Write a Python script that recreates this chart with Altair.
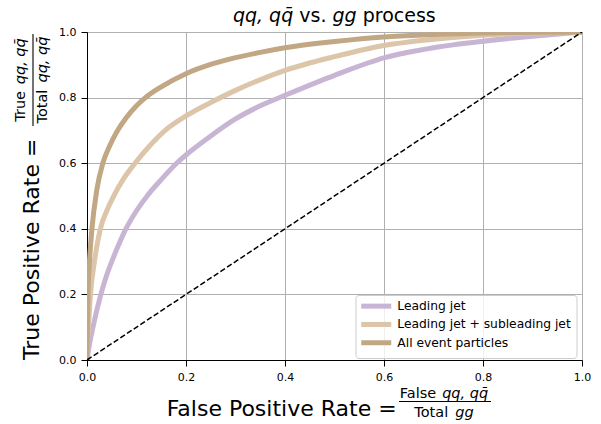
import altair as alt
import pandas as pd

# ---------------- data ----------------
series_names = ["Leading jet", "Leading jet + subleading jet", "All event particles"]
series_colors = ["#c8b4d3", "#dcc5a8", "#c1a783"]

lead_fpr = [0, 0.004, 0.012, 0.028, 0.04, 0.05, 0.065, 0.077, 0.1, 0.125, 0.15, 0.181,
            0.2, 0.25, 0.3, 0.35, 0.4, 0.5, 0.6, 0.7, 0.8, 0.9, 1.0]
lead_tpr = [0, 0.04, 0.1, 0.2, 0.26, 0.3, 0.355, 0.395, 0.455, 0.507, 0.55, 0.6,
            0.625, 0.683, 0.735, 0.775, 0.807, 0.868, 0.921, 0.952, 0.972, 0.987, 1.0]

sub_fpr = [0, 0.001, 0.003, 0.007, 0.015, 0.027, 0.04, 0.054, 0.075, 0.097, 0.125, 0.158,
           0.2, 0.25, 0.3, 0.4, 0.5, 0.6, 0.7, 0.8, 0.9, 1.0]
sub_tpr = [0, 0.05, 0.1, 0.2, 0.3, 0.4, 0.455, 0.5, 0.555, 0.6, 0.65, 0.7,
           0.744, 0.785, 0.822, 0.883, 0.925, 0.959, 0.978, 0.99, 0.997, 1.0]

all_fpr = [0, 0.001, 0.002, 0.005, 0.01, 0.02, 0.032, 0.045, 0.06, 0.08, 0.1, 0.118,
           0.15, 0.2, 0.25, 0.29, 0.35, 0.4, 0.5, 0.6, 0.7, 0.8, 0.9, 1.0]
all_tpr = [0, 0.12, 0.2, 0.3, 0.4, 0.52, 0.6, 0.65, 0.695, 0.74, 0.775, 0.8,
           0.833, 0.873, 0.901, 0.918, 0.938, 0.952, 0.971, 0.985, 0.992, 0.997, 0.999, 1.0]

diag_x = [0, 1]
diag_y = [0, 1]

tick_values = [0, 0.2, 0.4, 0.6, 0.8, 1.0]

rows = []
for name, xs, ys in zip(series_names, [lead_fpr, sub_fpr, all_fpr], [lead_tpr, sub_tpr, all_tpr]):
    for i, (a, b) in enumerate(zip(xs, ys)):
        rows.append({"fpr": a, "tpr": b, "model": name, "idx": i})
df = pd.DataFrame(rows)
diag = pd.DataFrame({"fpr": diag_x, "tpr": diag_y})

FONT = "DejaVu Sans"
W, H = 495, 328

# DejaVu Sans advance widths (em) for layout of the composed labels
ADV = {" ": .318, ",": .318, ".": .318, "q": .635, "g": .635, "p": .635, "r": .411,
       "o": .612, "c": .550, "e": .615, "s": .521, "v": .592, "T": .611, "u": .634,
       "a": .613, "l": .278, "t": .392, "F": .575, "P": .603, "R": .695, "i": .278,
       "=": .838, "\u0304": 0.0}


def tw(s, size):
    return sum(ADV.get(ch, 0.6) for ch in s) * size


QQ = "qq, qq\u0304"


def piece(text, x, y, size, italic=False, angle=0):
    return alt.Chart(alt.Data(values=[{"k": 0}])).mark_text(
        text=text, font=FONT, fontSize=size,
        fontStyle="italic" if italic else "normal",
        align="left", baseline="alphabetic", angle=angle, color="black"
    ).encode(x=alt.value(x), y=alt.value(y))


def hrule(x1, x2, y):
    return alt.Chart(alt.Data(values=[{"k": 0}])).mark_rule(
        color="black", strokeWidth=1.1
    ).encode(x=alt.value(x1), x2=alt.value(x2), y=alt.value(y))


def vrule(x, y1, y2):
    return alt.Chart(alt.Data(values=[{"k": 0}])).mark_rule(
        color="black", strokeWidth=1.1
    ).encode(x=alt.value(x), y=alt.value(y1), y2=alt.value(y2))


ann = []

# ---- title: "qq, qq̄ vs. gg process"
ts = 19
tparts = [(QQ, True), (" ", None), ("vs.", False), (" ", None), ("gg", True), (" ", None), ("process", False)]
total = sum(tw(t, ts) for t, _ in tparts)
cx = W / 2 - total / 2
for t, it in tparts:
    if it is not None:
        ann.append(piece(t, cx, -10, ts, italic=it))
    cx += tw(t, ts)

# ---- x axis title
xs_main = 22
fs = 14.5
x0 = 79.7
ann.append(piece("False Positive Rate =", x0, 384, xs_main))
num_w = tw("False " + QQ, fs)
ncx = 357
ann.append(piece("False", ncx - num_w / 2, 366, fs))
ann.append(piece(QQ, ncx - num_w / 2 + tw("False ", fs), 366, fs, italic=True))
den_w = tw("Total gg", fs)
ann.append(piece("Total", ncx - den_w / 2, 385, fs))
ann.append(piece("gg", ncx - den_w / 2 + tw("Total ", fs), 385, fs, italic=True))
ann.append(hrule(312, 404, 369.5))

# ---- y axis title (rotated)
ann.append(piece("True Positive Rate =", -48.5, 328, xs_main, angle=270))
fcy = 48
num_w = tw("True " + QQ, fs)
ann.append(piece("True", -62, fcy + num_w / 2, fs, angle=270))
ann.append(piece(QQ, -62, fcy + num_w / 2 - tw("True ", fs), fs, italic=True, angle=270))
den_w = tw("Total " + QQ, fs)
ann.append(piece("Total", -40.5, fcy + den_w / 2, fs, angle=270))
ann.append(piece(QQ, -40.5, fcy + den_w / 2 - tw("Total ", fs), fs, italic=True, angle=270))
ann.append(vrule(-54, 2, 94))

# ---------------- main layers ----------------
xscale = alt.Scale(domain=[0, 1], nice=False, zero=False)
yscale = alt.Scale(domain=[0, 1], nice=False, zero=False)

xaxis = alt.Axis(values=tick_values, format=".1f", title=None, grid=True, labelFlush=False)
yaxis = alt.Axis(values=tick_values, format=".1f", title=None, grid=True, labelFlush=False)

lines = alt.Chart(df).mark_line(strokeWidth=5, interpolate="monotone", clip=True).encode(
    x=alt.X("fpr:Q", scale=xscale, axis=xaxis),
    y=alt.Y("tpr:Q", scale=yscale, axis=yaxis),
    color=alt.Color(
        "model:N",
        scale=alt.Scale(domain=series_names, range=series_colors),
        sort=series_names,
        legend=alt.Legend(
            title=None, orient="none", legendX=268.5, legendY=263,
            symbolType="M-1.8,0H8.2", symbolStrokeWidth=5, symbolSize=36,
            labelFontSize=12.3, labelFont=FONT, labelColor="black", labelOffset=24.5,
            labelLimit=400,
            fillColor="rgba(255,255,255,0.8)", strokeColor="#cccccc",
            cornerRadius=3, padding=5, rowPadding=-2.7,
        ),
    ),
    order=alt.Order("idx:Q"),
    detail="model:N",
)

diag_line = alt.Chart(diag).mark_line(color="black", strokeWidth=1.5, strokeDash=[5.5, 2.5], clip=True).encode(
    x=alt.X("fpr:Q", scale=xscale),
    y=alt.Y("tpr:Q", scale=yscale),
)

chart = alt.layer(lines, diag_line, *ann).properties(
    width=W, height=H,
    autosize=alt.AutoSizeParams(type="none"),
    padding={"left": 87, "top": 32, "right": 19, "bottom": 64},
).configure_view(
    stroke="black", strokeWidth=1
).configure_axis(
    labelFont=FONT, labelFontSize=11, labelColor="black",
    tickColor="black", tickSize=6, tickWidth=1,
    domainColor="black", domainWidth=1,
    gridColor="#b0b0b0", gridWidth=1, labelPadding=5,
).configure_text(font=FONT)

chart.save("out.html", embed_options={"renderer": "svg", "actions": False})
